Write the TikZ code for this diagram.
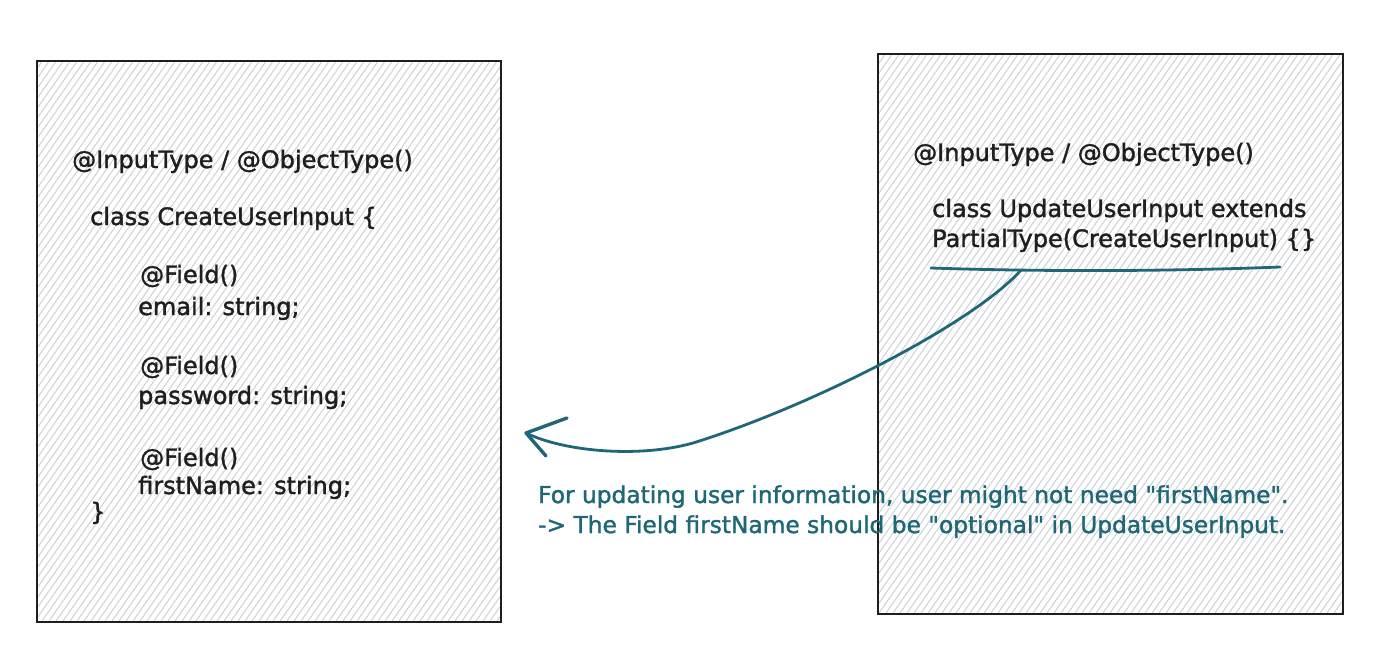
\documentclass[tikz,border=0pt]{standalone}
\usepackage{fontspec}
\setmainfont{DejaVu Sans}
\newfontfamily\handfont[FakeBold=1.5]{DejaVu Sans}
\definecolor{ink}{HTML}{1E1E1E}
\definecolor{tealc}{HTML}{1F6677}
\definecolor{hatch}{HTML}{CDD2D6}
\begin{document}
\begin{tikzpicture}[x=1pt,y=-1pt,
  code/.style={anchor=base west, inner sep=0pt, text=ink, font=\handfont\fontsize{24}{31}\selectfont},
  note/.style={anchor=base west, inner sep=0pt, text=tealc, font=\handfont\fontsize{23.3}{30}\selectfont},
  boxline/.style={draw=ink, line width=1.8pt, anchor=north west, inner sep=0pt},
  hatchline/.style={draw=hatch, line width=1pt},
  link/.style={draw=tealc, line width=2.8pt, line cap=round, line join=round}]
\useasboundingbox (0,0) rectangle (1376,670);
% hatch fills
\begin{scope}
  \clip (36,60) rectangle (500,621);
  \foreach \x in {-364,-357,...,500} \draw[hatchline] (\x,621) -- ++(393,-561);
\end{scope}
\begin{scope}
  \clip (877,53) rectangle (1342,613);
  \foreach \x in {480,487,...,1342} \draw[hatchline] (\x,613) -- ++(392,-560);
\end{scope}
% boxes
\node[boxline, minimum width=464pt, minimum height=561pt] (leftbox) at (36,60) {};
\node[boxline, minimum width=465pt, minimum height=560pt] (rightbox) at (877,53) {};
% left texts
\node[code] (l1) at (72,168) {@InputType / @ObjectType()};
\node[code] (l2) at (90,225) {class CreateUserInput \{};
\node[code] (l3) at (140,283) {@Field()};
\node[code] (l4) at (138,315) {email: string;};
\node[code] (l5) at (140,374) {@Field()};
\node[code] (l6) at (138,404) {password: string;};
\node[code] (l7) at (140,466) {@Field()};
\node[code] (l8) at (138,494) {firstName: string;};
\node[code] (l9) at (90,520) {\}};
% right texts
\node[code] (r1) at (913,161) {@InputType / @ObjectType()};
\node[code] (r2) at (932,217) {class UpdateUserInput extends};
\node[code] (r3) at (932,247) {PartialType(CreateUserInput) \{\}};
% note
\node[note] (n1) at (538,503) {For updating user information, user might not need \textquotedbl firstName\textquotedbl.};
\node[note] (n2) at (538,533) {-> The Field firstName should be \textquotedbl optional\textquotedbl{} in UpdateUserInput.};
% underline and arrow
\coordinate (ulA) at (931,268);
\coordinate (ulB) at (1280,267);
\coordinate (ustart) at (1021,270);
\coordinate (abend) at (693,443);
\coordinate (atip) at (526,433);
\coordinate (wing1) at (567,418);
\coordinate (wing2) at (546,456);
\draw[link] (ulA) .. controls (1050,272) and (1180,271) .. (ulB);
\draw[link] (ustart) .. controls (975,322) and (815,405) .. (abend)
  .. controls (640,458) and (565,452) .. (atip);
\draw[link, line width=3.4pt] (wing1) -- (atip) -- (wing2);
\end{tikzpicture}
\end{document}
